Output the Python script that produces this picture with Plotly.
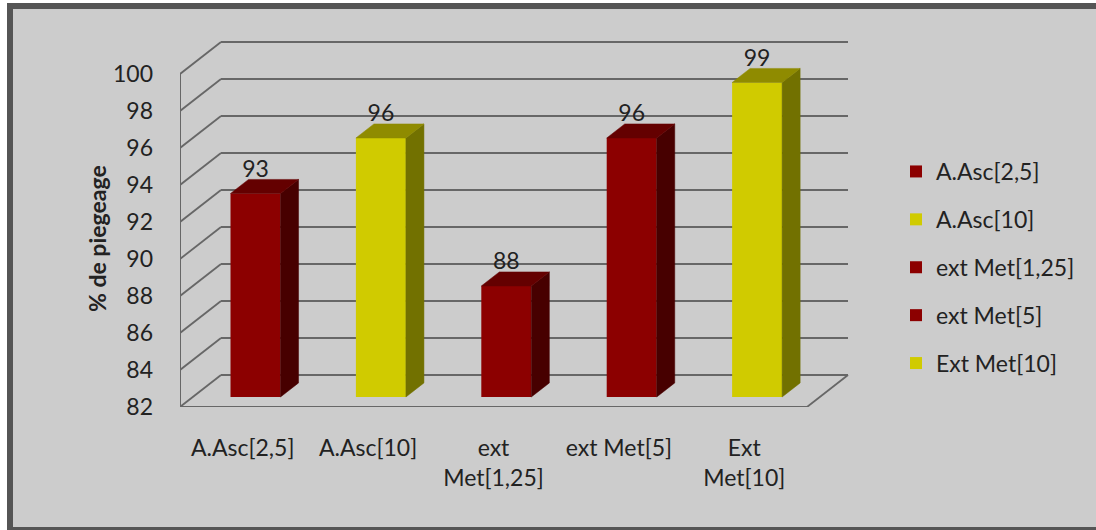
import plotly.graph_objects as go

# ---------------- data ----------------
categories = ["A.Asc[2,5]", "A.Asc[10]", "ext Met[1,25]", "ext Met[5]", "Ext Met[10]"]
tick_labels = ["A.Asc[2,5]", "A.Asc[10]", "ext<br>Met[1,25]", "ext Met[5]", "Ext<br>Met[10]"]
values = [93, 96, 88, 96, 99]
y_ticks = [82, 84, 86, 88, 90, 92, 94, 96, 98, 100]
y_title = "% de piegeage"

# ---------------- style ----------------
RED = dict(front="#8c0000", top="#640000", side="#470000")
YEL = dict(front="#d0cb00", top="#8f8b00", side="#727100")
palette = [RED, YEL, RED, RED, YEL]
FONT = "Lato, 'Open Sans', sans-serif"
TXT = "#222222"
GRID = "#676767"
BG = "#cccccc"

# pixel geometry of plot area
L, R, T, B = 180, 852, 30, 407
PX_PER_CAT = 125.4
PX_PER_UNIT = 18.5
W, H = 1096, 530
BASE = y_ticks[0]
TOP = y_ticks[-1]
x_lo = -0.5
x_hi = x_lo + (R - L) / PX_PER_CAT
y_lo = BASE
y_hi = BASE + (B - T) / PX_PER_UNIT

# 3D depth offsets (axis units)
WDX, WDY = 41 / PX_PER_CAT, 32 / PX_PER_UNIT          # back wall
BDX, BDY = 0.3125 * WDX, 0.3125 * WDY                 # bar front plane
DDX, DDY = 0.44 * WDX, 0.44 * WDY                     # bar depth
BW = 50 / PX_PER_CAT                                  # bar width
n = len(categories)

fig = go.Figure()

# front faces (bars)
for i, (name, v, pal) in enumerate(zip(categories, values, palette)):
    fig.add_trace(go.Bar(
        x=[i + BDX], y=[v - BASE], base=[BASE + BDY], width=[BW],
        name=name, marker=dict(color=pal["front"], line=dict(width=0)),
        legendgroup=f"g{i}", hoverinfo="skip",
    ))

# top and side faces
for i, (v, pal) in enumerate(zip(values, palette)):
    xl = i + BDX - BW / 2
    xr = i + BDX + BW / 2
    vt = v + BDY
    b0 = BASE + BDY
    fig.add_trace(go.Scatter(
        x=[xr, xr, xr + DDX, xr + DDX, xr], y=[b0, vt, vt + DDY, b0 + DDY, b0],
        fill="toself", fillcolor=pal["side"], mode="lines",
        line=dict(width=0.5, color=pal["side"]), showlegend=False, hoverinfo="skip",
    ))
    fig.add_trace(go.Scatter(
        x=[xl, xr, xr + DDX, xl + DDX, xl], y=[vt, vt, vt + DDY, vt + DDY, vt],
        fill="toself", fillcolor=pal["top"], mode="lines",
        line=dict(width=0.5, color=pal["top"]), showlegend=False, hoverinfo="skip",
    ))

# data labels
fig.add_trace(go.Scatter(
    x=[i + BDX for i in range(n)],
    y=[v + BDY + 22.5 / PX_PER_UNIT for v in values],
    text=[str(v) for v in values], mode="text",
    textfont=dict(family=FONT, size=23, color=TXT),
    showlegend=False, hoverinfo="skip",
))

# walls / gridlines / floor as shapes
shapes = []
def seg(x0, y0, x1, y1, width=1.8):
    shapes.append(dict(type="line", xref="x", yref="y", x0=x0, y0=y0, x1=x1, y1=y1,
                       line=dict(color=GRID, width=width), layer="below"))

for t in y_ticks:
    seg(x_lo, t, x_lo + WDX, t + WDY)
    seg(x_lo + WDX, t + WDY, n - 0.5 + WDX, t + WDY)
# front floor edge, right floor edge, front vertical axis
seg(x_lo, BASE, n - 0.5, BASE, 2.2)
seg(n - 0.5, BASE, n - 0.5 + WDX, BASE + WDY)
seg(x_lo, BASE, x_lo, TOP, 2)

# outer frame
pw = R - L
ph = B - T
def px2paper_x(px):
    return (px - L) / pw
def px2paper_y(py):
    return (B - py) / ph
shapes.append(dict(type="rect", xref="paper", yref="paper",
                   x0=px2paper_x(10), x1=px2paper_x(1115),
                   y0=px2paper_y(530), y1=px2paper_y(6),
                   fillcolor=BG, line=dict(color="#555555", width=6), layer="below"))

fig.update_layout(
    width=W, height=H,
    margin=dict(l=L, r=W - R, t=T, b=H - B, pad=0),
    paper_bgcolor="white", plot_bgcolor="rgba(0,0,0,0)",
    barmode="overlay",
    shapes=shapes,
    font=dict(family=FONT, size=23, color=TXT),
    xaxis=dict(range=[x_lo, x_hi], tickvals=list(range(n)), ticktext=tick_labels,
               showgrid=False, zeroline=False, showline=False, ticks="",
               ticklabelstandoff=25, tickfont=dict(family=FONT, size=23, color=TXT),
               fixedrange=True),
    yaxis=dict(range=[y_lo, y_hi], tickvals=y_ticks, ticktext=[str(t) for t in y_ticks],
               showgrid=False, zeroline=False, showline=False, ticks="",
               ticklabelstandoff=26, tickfont=dict(family=FONT, size=23, color=TXT),
               fixedrange=True),
    legend=dict(x=px2paper_x(896), xanchor="left", y=px2paper_y(267.5), yanchor="middle",
                bgcolor="rgba(0,0,0,0)", borderwidth=0, tracegroupgap=15,
                font=dict(family=FONT, size=23, color=TXT), itemclick=False),
    annotations=[dict(text="<b>" + y_title + "</b>", textangle=-90, showarrow=False,
                      xref="paper", yref="paper", x=px2paper_x(97), y=px2paper_y(239),
                      xanchor="center", yanchor="middle",
                      font=dict(family=FONT, size=23, color=TXT))],
)

fig.write_html("out.html")
